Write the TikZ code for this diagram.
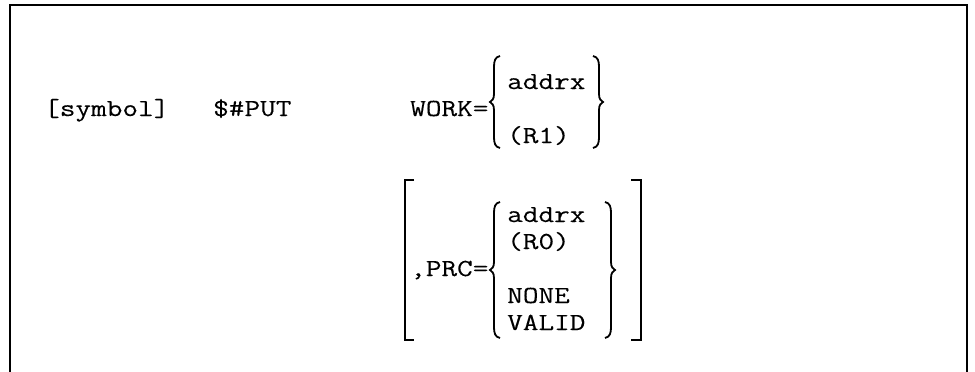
\documentclass[tikz,border=0pt]{standalone}
\usepackage{fontspec}
\newfontfamily\codefont[FakeStretch=1.24,FakeBold=0.2]{Latin Modern Mono}
\newcommand\LeftCurly[4]{% x, top, middle, bottom
  \draw[delim] ({#1+6},#2) .. controls ({#1+1},{#2+1}) and (#1,{#2+5}) .. (#1,{#2+11})
    -- (#1,{#3-8}) .. controls (#1,{#3-3}) and ({#1-2},{#3-1}) .. ({#1-4},#3)
    .. controls ({#1-2},{#3+1}) and (#1,{#3+3}) .. (#1,{#3+8})
    -- (#1,{#4-11}) .. controls (#1,{#4-5}) and ({#1+1},{#4-1}) .. ({#1+6},#4);}
\newcommand\RightCurly[4]{% x, top, middle, bottom
  \draw[delim] ({#1-6},#2) .. controls ({#1-1},{#2+1}) and (#1,{#2+5}) .. (#1,{#2+11})
    -- (#1,{#3-8}) .. controls (#1,{#3-3}) and ({#1+2},{#3-1}) .. ({#1+4},#3)
    .. controls ({#1+2},{#3+1}) and (#1,{#3+3}) .. (#1,{#3+8})
    -- (#1,{#4-11}) .. controls (#1,{#4-5}) and ({#1-1},{#4-1}) .. ({#1-6},#4);}
\begin{document}
\begin{tikzpicture}[x=1pt,y=-1pt,
  code/.style={inner sep=0pt,anchor=base west,font=\codefont\fontsize{24.5}{27}\selectfont},
  frame/.style={line width=2pt},
  delim/.style={line width=1.8pt},
  sqbracket/.style={line width=1.5pt}]
\useasboundingbox (0,0) rectangle (975,372);
% open frame around the statement
\draw[frame] (10,372) -- (10,5) -- (967,5) -- (967,372);
% first line of the macro statement
\node[code] (label) at (44,116) {[symbol]};
\node[code] (macro) at (213,116) {\$\#PUT};
\node[code] (work) at (410,116) {WORK=};
\LeftCurly{494}{56}{102}{148}
\node[code] (workaddr) at (507,89) {addrx};
\node[code] (workreg) at (507,143) {(R1)};
\RightCurly{599}{56}{102}{148}
% optional PRC operand
\draw[sqbracket] (414,180) -- (405,180) -- (405,340) -- (414,340);
\draw[sqbracket] (631,180) -- (641,180) -- (641,340) -- (631,340);
\node[code] (prc) at (410,276) {,PRC=};
\LeftCurly{494}{202}{270}{338}
\node[code] (prcaddr) at (507,222) {addrx};
\node[code] (prcreg) at (507,249) {(R0)};
\node[code] (prcnone) at (507,303) {NONE};
\node[code] (prcvalid) at (507,330) {VALID};
\RightCurly{611}{202}{270}{338}
\end{tikzpicture}
\end{document}
